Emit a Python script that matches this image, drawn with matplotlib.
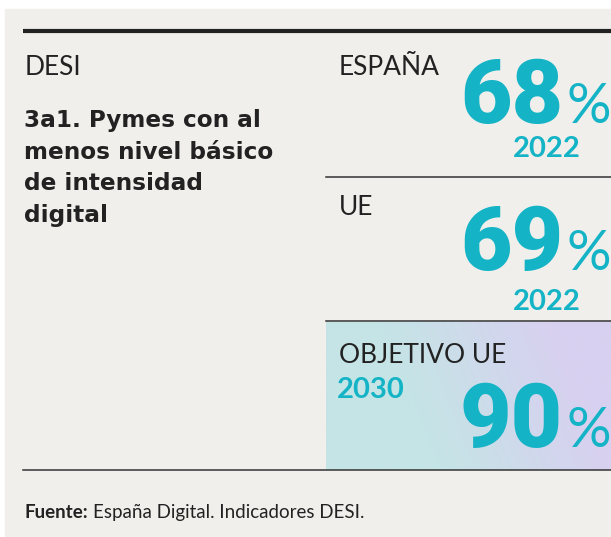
import numpy as np
import matplotlib.pyplot as plt
from matplotlib.patches import Rectangle

# datos
indicador = "DESI"
titulo = ["3a1. Pymes con al", "menos nivel básico", "de intensidad", "digital"]
etiquetas = ["ESPAÑA", "UE", "OBJETIVO UE"]
valores = [68, 69, 90]
anios = ["2022", "2022", "2030"]
fuente = "España Digital. Indicadores DESI."

TEAL = "#14b4c6"
FONDO = "#f0efec"
NEGRO = "#222222"
FAM = ["Lato", "DejaVu Sans"]
FAM_NUM = ["Roboto", "Lato", "DejaVu Sans"]

W, H = 611, 537
fig = plt.figure(figsize=(W / 100, H / 100), dpi=100)
fig.patch.set_facecolor("white")
ax = fig.add_axes([0, 0, 1, 1])
ax.set_xlim(0, W)
ax.set_ylim(H, 0)
ax.axis("off")

# fondo gris
ax.add_patch(Rectangle((5, 9), W - 5, H - 9, color=FONDO, zorder=0))

# caja con degradado (objetivo)
x0, x1, y0, y1 = 326, W, 322, 470
nx, ny = 300, 150
u = np.linspace(0, 1, nx)[None, :]
v = np.linspace(0, 1, ny)[:, None]
t = np.clip((u - 0.3) / 0.6 + (0.5 - v) * 0.35, 0, 1)
c0 = np.array([197, 228, 230]) / 255
c1 = np.array([216, 208, 240]) / 255
img = c0[None, None, :] * (1 - t[..., None]) + c1[None, None, :] * t[..., None]
ax.imshow(img, extent=(x0, x1, y1, y0), aspect="auto", zorder=1)

# lineas
ax.plot([23, W], [31, 31], color=NEGRO, lw=3, solid_capstyle="butt", zorder=3)
ax.plot([326, W], [177, 177], color="#333333", lw=1.1, zorder=3)
ax.plot([326, W], [321, 321], color="#333333", lw=1.1, zorder=3)
ax.plot([23, W], [470, 470], color="#333333", lw=1.1, zorder=3)

# columna izquierda
ax.text(25, 75, indicador, fontsize=19, family=FAM, weight="normal",
        color=NEGRO, va="baseline", zorder=4)
for i, linea in enumerate(titulo):
    ax.text(24, 127 + i * 31.7, linea, fontsize=16.7, family="DejaVu Sans",
            weight="bold", color=NEGRO, va="baseline", zorder=4)

# bloques de la derecha
base_etiq = [75, 215, 363]
base_num = [123, 270, 447]
for i in range(3):
    ax.text(339, base_etiq[i], etiquetas[i], fontsize=19, family=FAM,
            weight="normal", color=NEGRO, va="baseline", zorder=4)
    ax.text(563, base_num[i], str(valores[i]), fontsize=64, family=FAM_NUM,
            weight="black", color=TEAL, va="baseline", ha="right", zorder=4)
    ax.text(611, base_num[i], "%", fontsize=40, family=FAM, weight="normal",
            color=TEAL, va="baseline", ha="right", zorder=4)

ax.text(581, 157, anios[0], fontsize=21, family=FAM, weight="bold",
        color=TEAL, va="baseline", ha="right", zorder=4)
ax.text(581, 310, anios[1], fontsize=21, family=FAM, weight="bold",
        color=TEAL, va="baseline", ha="right", zorder=4)
ax.text(337, 398, anios[2], fontsize=21, family=FAM, weight="bold",
        color=TEAL, va="baseline", zorder=4)

# fuente
t1 = ax.text(25, 518, "Fuente:", fontsize=13.5, family=FAM, weight="bold",
             color=NEGRO, va="baseline", zorder=4)
fig.canvas.draw()
bb = t1.get_window_extent()
xf = ax.transData.inverted().transform((bb.x1, bb.y0))[0]
ax.text(xf + 4, 518, fuente, fontsize=13.5, family=FAM, weight="normal",
        color=NEGRO, va="baseline", zorder=4)

fig.savefig("out.png", dpi=100, facecolor=fig.get_facecolor())
